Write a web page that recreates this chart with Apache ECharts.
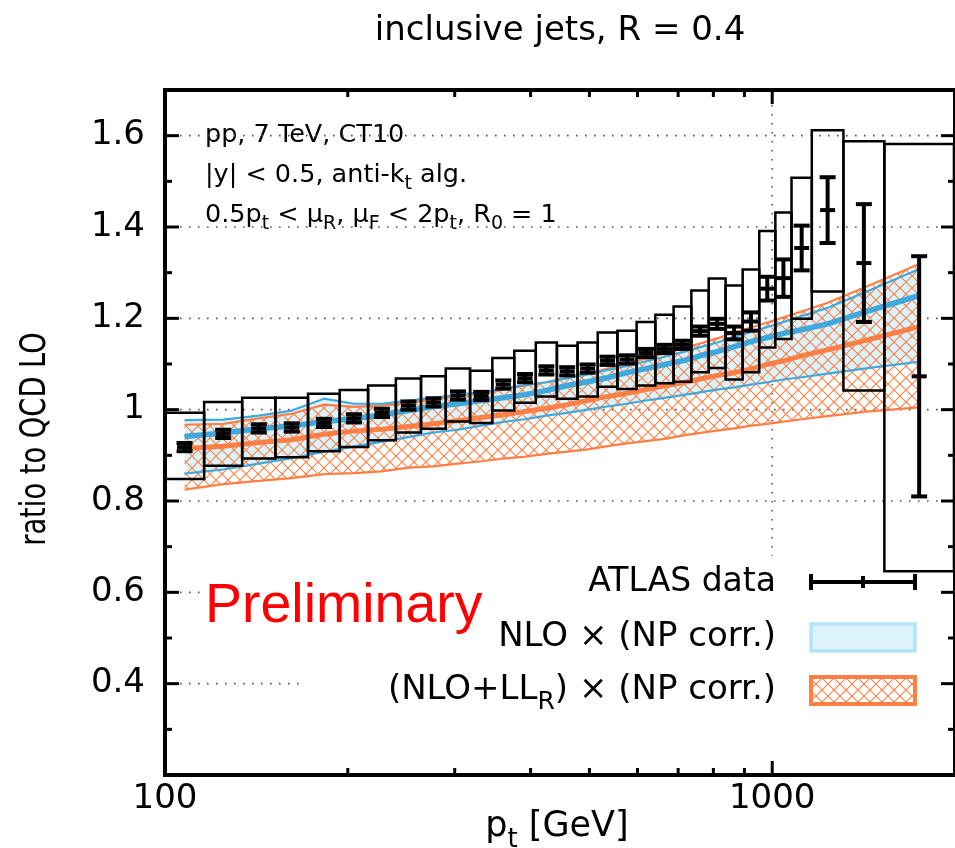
<!DOCTYPE html>
<html>
<head>
<meta charset="utf-8">
<script src="https://cdn.jsdelivr.net/npm/echarts@6/dist/echarts.min.js"></script>
<style>
  html, body { margin: 0; padding: 0; background: #ffffff; }
  #chart { width: 955px; height: 848px; }
</style>
</head>
<body>
<div id="chart"></div>
<script>
// pT bin edges [GeV] and bin centres (geometric means)
const binEdges = [100, 116, 134, 152, 172, 194, 216, 240, 264, 290, 318, 346, 376, 408, 442, 478,
  516, 556, 598, 642, 688, 736, 786, 838, 894, 952, 1012, 1076, 1162, 1310, 1530, 1992];
const binCenters = [107.7, 124.7, 142.7, 161.7, 182.7, 204.7, 227.7, 251.7, 276.7, 303.7, 331.7,
  360.7, 391.7, 424.7, 459.6, 496.6, 535.6, 576.6, 619.6, 664.6, 711.6, 760.6, 811.6, 865.6,
  922.5, 981.5, 1043.5, 1118.2, 1233.8, 1415.7, 1745.8];

// ATLAS data: ratio, statistical error, systematic band
const dataRatio = [0.918, 0.947, 0.959, 0.961, 0.971, 0.981, 0.993, 1.009, 1.016, 1.031, 1.030,
  1.055, 1.069, 1.086, 1.084, 1.090, 1.107, 1.110, 1.124, 1.133, 1.142, 1.172, 1.188, 1.168,
  1.193, 1.265, 1.288, 1.354, 1.437, 1.321, 1.073];
const dataStat = [0.009, 0.009, 0.009, 0.009, 0.009, 0.009, 0.009, 0.009, 0.009, 0.009, 0.009,
  0.009, 0.009, 0.009, 0.009, 0.009, 0.009, 0.009, 0.009, 0.009, 0.009, 0.010, 0.011, 0.014,
  0.020, 0.026, 0.041, 0.049, 0.072, 0.129, 0.263];
const sysHigh = [0.993, 1.017, 1.026, 1.026, 1.035, 1.043, 1.053, 1.068, 1.073, 1.090, 1.085,
  1.113, 1.129, 1.147, 1.140, 1.147, 1.169, 1.173, 1.192, 1.208, 1.226, 1.261, 1.287, 1.272,
  1.307, 1.391, 1.432, 1.508, 1.612, 1.588, 1.582];
const sysLow = [0.848, 0.877, 0.893, 0.896, 0.909, 0.918, 0.933, 0.950, 0.958, 0.974, 0.971,
  0.998, 1.015, 1.029, 1.024, 1.029, 1.050, 1.045, 1.053, 1.058, 1.061, 1.082, 1.091, 1.066,
  1.082, 1.136, 1.155, 1.199, 1.259, 1.042, 0.646];

// NLO x (NP corr.): central value and scale band
const nloCentral = [0.941, 0.949, 0.958, 0.964, 0.974, 0.980, 0.989, 0.998, 1.007, 1.013, 1.020,
  1.026, 1.033, 1.042, 1.053, 1.061, 1.070, 1.081, 1.090, 1.099, 1.107, 1.118, 1.127, 1.138,
  1.149, 1.158, 1.167, 1.175, 1.188, 1.213, 1.250];
const nloHigh = [0.977, 0.978, 0.987, 0.998, 1.024, 1.013, 1.013, 1.020, 1.026, 1.033, 1.038,
  1.046, 1.054, 1.060, 1.069, 1.077, 1.087, 1.096, 1.106, 1.116, 1.126, 1.137, 1.147, 1.159,
  1.170, 1.181, 1.192, 1.205, 1.223, 1.256, 1.308];
const nloLow = [0.860, 0.869, 0.882, 0.894, 0.908, 0.919, 0.930, 0.940, 0.950, 0.956, 0.965,
  0.973, 0.979, 0.987, 0.993, 1.000, 1.007, 1.013, 1.020, 1.026, 1.032, 1.038, 1.044, 1.049,
  1.055, 1.060, 1.066, 1.071, 1.079, 1.090, 1.105];

// (NLO+LL_R) x (NP corr.): central value and scale band
const resCentral = [0.915, 0.920, 0.928, 0.934, 0.946, 0.953, 0.957, 0.963, 0.969, 0.976, 0.983,
  0.989, 0.996, 1.003, 1.011, 1.020, 1.029, 1.036, 1.044, 1.052, 1.059, 1.067, 1.075, 1.081,
  1.089, 1.099, 1.107, 1.118, 1.131, 1.151, 1.182];
const resHigh = [0.967, 0.969, 0.981, 0.991, 1.011, 1.006, 1.009, 1.015, 1.022, 1.030, 1.035,
  1.044, 1.053, 1.060, 1.070, 1.079, 1.090, 1.101, 1.112, 1.123, 1.134, 1.145, 1.156, 1.169,
  1.180, 1.191, 1.202, 1.215, 1.234, 1.267, 1.319];
const resLow = [0.825, 0.837, 0.844, 0.850, 0.859, 0.861, 0.865, 0.873, 0.876, 0.882, 0.887,
  0.893, 0.897, 0.903, 0.908, 0.913, 0.920, 0.926, 0.931, 0.936, 0.943, 0.949, 0.954, 0.959,
  0.965, 0.969, 0.974, 0.979, 0.986, 0.995, 1.005];

// axis ranges and tick positions
const xRange = [100, 2000];
const yRange = [0.2, 1.7];
const xMajorTicks = [100, 1000];
const xMinorTicks = [200, 300, 400, 500, 600, 700, 800, 900];
const yMajorTicks = [0.2, 0.4, 0.6, 0.8, 1.0, 1.2, 1.4, 1.6];
const yMinorTicks = [0.3, 0.5, 0.7, 0.9, 1.1, 1.3, 1.5];
const yTickLabels = ['0.4', '0.6', '0.8', '1', '1.2', '1.4', '1.6'];
const xTickLabels = ['100', '1000'];

// dotted grid: horizontal rows (value, right end) and the vertical line at 1000 GeV
const gridRows = [[0.4, 166], [0.6, 114], [0.8, 2000], [1.0, 2000], [1.2, 2000], [1.4, 2000], [1.6, 2000]];
const gridCols = [[1000, 0.68, 1.7]];

const FONT = "'DejaVu Sans', sans-serif";
const BLUE = '#3fa9dd';
const BLUE_FILL = '#dcf3fb';
const ORANGE = '#ff7f45';

function makeHatch(step, color, width) {
  const c = document.createElement('canvas');
  c.width = step; c.height = step;
  const g = c.getContext('2d');
  g.strokeStyle = color;
  g.lineWidth = width;
  g.beginPath();
  g.moveTo(-2, -2); g.lineTo(step + 2, step + 2);
  g.moveTo(step + 2, -2); g.lineTo(-2, step + 2);
  g.stroke();
  return c;
}
const hatchPattern = { image: makeHatch(12, ORANGE, 1.1), repeat: 'repeat' };

// helper: a custom series that draws its whole shape once, in data coordinates
function overlay(z, draw) {
  return {
    type: 'custom', coordinateSystem: 'cartesian2d', z: z, silent: true, clip: false,
    data: [[xRange[0], yRange[0]]],
    renderItem: function (params, api) {
      return params.dataIndex === 0 ? draw(params, api) : null;
    }
  };
}

function bandPoints(api, xs, lo, hi) {
  const pts = [];
  for (let i = 0; i < xs.length; i++) pts.push(api.coord([xs[i], hi[i]]));
  for (let i = xs.length - 1; i >= 0; i--) pts.push(api.coord([xs[i], lo[i]]));
  return pts;
}

function curve(name, ys, color, width, z) {
  return {
    name: name, type: 'line', z: z, silent: true, symbol: 'none', smooth: false,
    data: binCenters.map((x, i) => [x, ys[i]]),
    lineStyle: { color: color, width: width, join: 'round' },
    animation: false
  };
}

const series = [
  // dotted grid
  overlay(1, function (params, api) {
    const children = [];
    const dot = { stroke: '#555', lineWidth: 1.6, lineDash: [1.6, 7.4] };
    gridRows.forEach(function (r) {
      const a = api.coord([xRange[0], r[0]]);
      const b = api.coord([r[1], r[0]]);
      children.push({ type: 'line', shape: { x1: a[0] + 6, y1: a[1], x2: b[0], y2: b[1] }, style: dot });
    });
    gridCols.forEach(function (c) {
      const a = api.coord([c[0], c[2]]);
      const b = api.coord([c[0], c[1]]);
      children.push({ type: 'line', shape: { x1: a[0], y1: a[1] + 6, x2: b[0], y2: b[1] }, style: dot });
    });
    return { type: 'group', children: children };
  }),
  // NLO band fill
  overlay(2, function (params, api) {
    return { type: 'polygon', shape: { points: bandPoints(api, binCenters, nloLow, nloHigh) },
      style: { fill: BLUE_FILL, stroke: null } };
  }),
  // NLO+LL_R hatched band
  overlay(3, function (params, api) {
    return { type: 'polygon', shape: { points: bandPoints(api, binCenters, resLow, resHigh) },
      style: { fill: hatchPattern, stroke: null } };
  }),
  curve('res-high', resHigh, ORANGE, 2.2, 4),
  curve('res-low', resLow, ORANGE, 2.2, 4),
  curve('nlo-high', nloHigh, BLUE, 2.2, 5),
  curve('nlo-low', nloLow, BLUE, 2.2, 5),
  curve('res-central', resCentral, ORANGE, 5, 6),
  curve('nlo-central', nloCentral, BLUE, 5.5, 7),
  // systematic boxes
  {
    type: 'custom', coordinateSystem: 'cartesian2d', z: 8, silent: true, clip: false,
    data: binCenters.map((x, i) => [x, dataRatio[i]]),
    renderItem: function (params, api) {
      const i = params.dataIndex;
      const p1 = api.coord([binEdges[i], sysHigh[i]]);
      const p2 = api.coord([binEdges[i + 1], sysLow[i]]);
      return { type: 'rect', shape: { x: p1[0], y: p1[1], width: p2[0] - p1[0], height: p2[1] - p1[1] },
        style: { fill: null, stroke: '#000', lineWidth: 2.5 } };
    }
  },
  // data points with statistical errors
  {
    type: 'custom', coordinateSystem: 'cartesian2d', z: 9, silent: true, clip: false,
    data: binCenters.map((x, i) => [x, dataRatio[i]]),
    renderItem: function (params, api) {
      const i = params.dataIndex;
      const c = api.coord([binCenters[i], dataRatio[i]]);
      const t = api.coord([binCenters[i], dataRatio[i] + dataStat[i]]);
      const b = api.coord([binCenters[i], dataRatio[i] - dataStat[i]]);
      const st = { stroke: '#000', lineWidth: 4 };
      return { type: 'group', children: [
        { type: 'line', shape: { x1: c[0], y1: t[1], x2: c[0], y2: b[1] }, style: st },
        { type: 'line', shape: { x1: c[0] - 8, y1: t[1], x2: c[0] + 8, y2: t[1] }, style: st },
        { type: 'line', shape: { x1: c[0] - 8, y1: b[1], x2: c[0] + 8, y2: b[1] }, style: st },
        { type: 'line', shape: { x1: c[0] - 7.5, y1: c[1], x2: c[0] + 7.5, y2: c[1] }, style: st }
      ] };
    }
  },
  // tick marks on all four sides
  overlay(10, function (params, api) {
    const r = params.coordSys;
    const children = [];
    const st = { stroke: '#000', lineWidth: 3 };
    function xt(v, len) {
      const p = api.coord([v, yRange[0]]);
      children.push({ type: 'line', shape: { x1: p[0], y1: r.y + r.height, x2: p[0], y2: r.y + r.height - len }, style: st });
      children.push({ type: 'line', shape: { x1: p[0], y1: r.y, x2: p[0], y2: r.y + len }, style: st });
    }
    function yt(v, len) {
      const p = api.coord([xRange[0], v]);
      children.push({ type: 'line', shape: { x1: r.x, y1: p[1], x2: r.x + len, y2: p[1] }, style: st });
      children.push({ type: 'line', shape: { x1: r.x + r.width, y1: p[1], x2: r.x + r.width - len, y2: p[1] }, style: st });
    }
    xMajorTicks.forEach(v => xt(v, 14));
    xMinorTicks.forEach(v => xt(v, 7));
    yMajorTicks.forEach(v => yt(v, 14));
    yMinorTicks.forEach(v => yt(v, 7));
    return { type: 'group', children: children };
  })
];

const textBase = { fill: '#000', fontFamily: FONT };
function txt(x, y, align, s) {
  return Object.assign({ align: align, verticalAlign: 'middle', textAlign: align, textVerticalAlign: 'middle' }, textBase, s);
}
function richSub(size, subSize, lh) {
  return {
    n: { fontSize: size, fontFamily: FONT, lineHeight: lh, verticalAlign: 'middle' },
    s: { fontSize: subSize, fontFamily: FONT, lineHeight: subSize, verticalAlign: 'bottom' }
  };
}

const graphic = [
  // title
  { type: 'text', x: 560, y: 31, style: txt(0, 0, 'center', { text: 'inclusive jets, R = 0.4', fontSize: 34 }) },
  // y axis title
  { type: 'text', x: 36, y: 439, rotation: Math.PI / 2, scaleX: 0.78,
    style: txt(0, 0, 'center', { text: 'ratio to QCD LO', fontSize: 35 }) },
  // x axis title
  { type: 'text', x: 557, y: 827, style: txt(0, 0, 'center', { text: '{n|p}{s|t}{n| [GeV]}', rich: richSub(35, 26, 52) }) },
  // annotations
  { type: 'text', x: 205, y: 135, style: txt(0, 0, 'left', { text: 'pp, 7 TeV, CT10', fontSize: 25.5 }) },
  { type: 'text', x: 205, y: 175, style: txt(0, 0, 'left', { text: '{n||y| < 0.5, anti-k}{s|t}{n| alg.}', rich: richSub(25.5, 19, 38) }) },
  { type: 'text', x: 205, y: 215, style: txt(0, 0, 'left', {
    text: '{n|0.5p}{s|t}{n| < μ}{s|R}{n|, μ}{s|F}{n| < 2p}{s|t}{n|, R}{s|0}{n| = 1}', rich: richSub(25.5, 19, 38) }) },
  // preliminary stamp
  { type: 'text', x: 205, y: 607, style: { text: 'Preliminary', fontSize: 55.5, fontFamily: "'Liberation Sans', Arial, sans-serif",
    fill: '#ff0000', align: 'left', verticalAlign: 'middle', textAlign: 'left', textVerticalAlign: 'middle' } },
  // legend: ATLAS data
  { type: 'text', x: 776, y: 582, style: txt(0, 0, 'right', { text: 'ATLAS data', fontSize: 33 }) },
  { type: 'line', shape: { x1: 811, y1: 582, x2: 915, y2: 582 }, style: { stroke: '#000', lineWidth: 4 } },
  { type: 'line', shape: { x1: 811, y1: 574, x2: 811, y2: 590 }, style: { stroke: '#000', lineWidth: 4 } },
  { type: 'line', shape: { x1: 915, y1: 574, x2: 915, y2: 590 }, style: { stroke: '#000', lineWidth: 4 } },
  { type: 'line', shape: { x1: 863, y1: 576, x2: 863, y2: 588 }, style: { stroke: '#000', lineWidth: 4 } },
  // legend: NLO
  { type: 'text', x: 776, y: 637, style: txt(0, 0, 'right', { text: 'NLO × (NP corr.)', fontSize: 34 }) },
  { type: 'rect', shape: { x: 811, y: 624, width: 104, height: 27 }, style: { fill: BLUE_FILL, stroke: '#b3e4f7', lineWidth: 3.5 } },
  // legend: NLO+LL_R
  { type: 'text', x: 776, y: 690, style: txt(0, 0, 'right', { text: '{n|(NLO+LL}{s|R}{n|) × (NP corr.)}', rich: richSub(34, 25, 50) }) },
  { type: 'rect', shape: { x: 811, y: 677, width: 104, height: 27 }, style: { fill: hatchPattern, stroke: ORANGE, lineWidth: 4 } }
];

const chart = echarts.init(document.getElementById('chart'), null, { renderer: 'canvas' });
chart.setOption({
  animation: false,
  backgroundColor: '#ffffff',
  grid: { left: 165, top: 90, width: 793, height: 685, show: true, borderColor: '#000', borderWidth: 4, backgroundColor: 'transparent' },
  xAxis: {
    type: 'log', logBase: 10, min: xRange[0], max: xRange[1],
    axisLine: { show: false }, axisTick: { show: false }, splitLine: { show: false }, minorTick: { show: false },
    axisLabel: {
      fontSize: 34, fontFamily: FONT, color: '#000', margin: 7,
      showMinLabel: true, showMaxLabel: false,
      formatter: function (v) {
        const r = Math.round(v);
        const k = xMajorTicks.indexOf(r);
        return k >= 0 ? xTickLabels[k] : '';
      }
    }
  },
  yAxis: {
    type: 'value', min: yRange[0], max: yRange[1], interval: 0.2,
    axisLine: { show: false }, axisTick: { show: false }, splitLine: { show: false },
    axisLabel: {
      fontSize: 34, fontFamily: FONT, color: '#000', margin: 20,
      formatter: function (v) {
        const r = Math.round(v * 10) / 10;
        const k = yMajorTicks.indexOf(r);
        return k >= 1 ? yTickLabels[k - 1] : '';
      }
    }
  },
  series: series,
  graphic: graphic
});
</script>
</body>
</html>
